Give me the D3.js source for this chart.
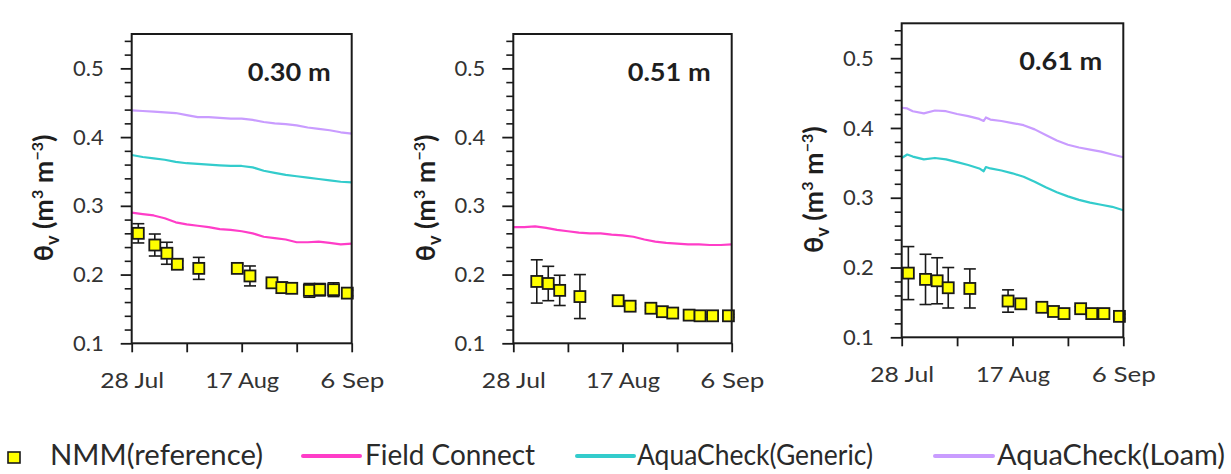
<!DOCTYPE html>
<html>
<head>
<meta charset="utf-8">
<script src="https://cdn.jsdelivr.net/npm/d3@7"></script>
<style>
  html, body { margin: 0; padding: 0; background: #fff; }
  svg { display: block; }
  text { font-family: Lato, "Open Sans", sans-serif; }
</style>
</head>
<body>
<svg id="chart" width="1231" height="474"></svg>
<script>
// ---- data -------------------------------------------------------------
// Days are counted from 28 Jul.
const startDate = new Date(2017, 6, 28);
const xTickDays = [0, 10, 20, 30, 40];
const xTickLabels = ["28 Jul", "", "17 Aug", "", "6 Sep"];
const yMajorTicks = [0.1, 0.2, 0.3, 0.4, 0.5];
const yTickLabels = ["0.1", "0.2", "0.3", "0.4", "0.5"];
const depthLabels = ["0.30 m", "0.51 m", "0.61 m"];
const seriesNames = ["NMM(reference)", "Field Connect", "AquaCheck(Generic)", "AquaCheck(Loam)"];
const seriesColors = ["#ffff00", "#ff3dc8", "#33cccc", "#c99cff"];

// Continuous sensor readings
const lineDays = [0, 2, 4, 6, 8, 10, 12, 14, 16, 18, 20, 22, 24, 26, 28, 30, 32, 34, 36, 38, 40];
const fieldConnect030 = [0.290, 0.288, 0.286, 0.282, 0.276, 0.273, 0.271, 0.269, 0.266, 0.265, 0.263,
                         0.260, 0.255, 0.253, 0.251, 0.247, 0.247, 0.248, 0.246, 0.244, 0.245];
const generic030 = [0.374, 0.371, 0.369, 0.367, 0.364, 0.362, 0.361, 0.360, 0.359, 0.358, 0.358,
                    0.356, 0.351, 0.348, 0.345, 0.343, 0.341, 0.339, 0.337, 0.335, 0.334];
const loam030 = [0.439, 0.438, 0.437, 0.436, 0.435, 0.432, 0.429, 0.429, 0.428, 0.427, 0.427,
                 0.425, 0.422, 0.420, 0.419, 0.417, 0.414, 0.412, 0.410, 0.407, 0.405];
const fieldConnect051 = [0.269, 0.269, 0.270, 0.268, 0.265, 0.263, 0.261, 0.260, 0.260, 0.258, 0.257,
                         0.255, 0.251, 0.248, 0.246, 0.245, 0.244, 0.244, 0.243, 0.243, 0.244];
const lineDays061 = [0, 1, 2, 4, 6, 8, 10, 12, 14, 14.8, 15.2, 16, 18, 20, 22, 24, 26, 28, 30, 32, 34, 36, 38, 40];
const generic061 = [0.357, 0.362, 0.359, 0.355, 0.357, 0.355, 0.351, 0.347, 0.342, 0.338, 0.344, 0.342,
                    0.339, 0.335, 0.330, 0.323, 0.315, 0.308, 0.302, 0.297, 0.293, 0.290, 0.287, 0.282];
const loam061 = [0.429, 0.428, 0.424, 0.421, 0.425, 0.424, 0.420, 0.417, 0.413, 0.410, 0.415, 0.412,
                 0.410, 0.407, 0.404, 0.398, 0.390, 0.382, 0.376, 0.372, 0.369, 0.366, 0.362, 0.358];

// Neutron moisture meter samples (mean and standard deviation)
const nmmDays030 = [1.2, 4.2, 6.4, 8.3, 12.2, 19.2, 21.5, 25.5, 27.3, 29.1, 32.3, 34.2, 36.7, 39.2];
const nmm030 = [0.260, 0.243, 0.231, 0.215, 0.209, 0.209, 0.198, 0.188, 0.181, 0.180, 0.177, 0.178, 0.178, 0.173];
const nmmSd030 = [0.014, 0.016, 0.016, 0.005, 0.016, 0.006, 0.0145, 0.006, 0.008, 0.004, 0.010, 0.009, 0.010, 0.004];
const nmmDays051 = [4.3, 6.4, 8.5, 12.2, 19.2, 21.4, 25.2, 27.3, 29.2, 32.2, 34.2, 36.5, 39.4];
const nmm051 = [0.190, 0.187, 0.177, 0.168, 0.162, 0.154, 0.151, 0.146, 0.144, 0.141, 0.140, 0.140, 0.140];
const nmmSd051 = [0.0315, 0.025, 0.022, 0.032, 0.004, 0.003, 0.003, 0.003, 0.003, 0.002, 0.002, 0.002, 0.002];
const nmmDays061 = [1.2, 4.3, 6.4, 8.4, 12.3, 19.2, 21.5, 25.3, 27.4, 29.3, 32.3, 34.3, 36.5, 39.3];
const nmm061 = [0.192, 0.183, 0.181, 0.171, 0.170, 0.152, 0.148, 0.143, 0.137, 0.134, 0.141, 0.134, 0.134, 0.130];
const nmmSd061 = [0.038, 0.036, 0.033, 0.029, 0.028, 0.016, 0.007, 0.005, 0.003, 0.003, 0.003, 0.003, 0.003, 0.003];

// ---- layout -----------------------------------------------------------
const dayToDate = d => new Date(startDate.getTime() + d * 86400000);
const pair = (days, vals) => days.map((d, i) => ({ day: d, v: vals[i] }));

const panels = [
  { box: { left: 131.7, right: 351.7, top: 34, bottom: 343.3 },
    label: depthLabels[0],
    lines: [
      { color: seriesColors[3], pts: pair(lineDays, loam030) },
      { color: seriesColors[2], pts: pair(lineDays, generic030) },
      { color: seriesColors[1], pts: pair(lineDays, fieldConnect030) }
    ],
    nmm: nmmDays030.map((d, i) => ({ day: d, v: nmm030[i], sd: nmmSd030[i] })) },
  { box: { left: 513.3, right: 731.7, top: 34, bottom: 343.3 },
    label: depthLabels[1],
    lines: [
      { color: seriesColors[1], pts: pair(lineDays, fieldConnect051) }
    ],
    nmm: nmmDays051.map((d, i) => ({ day: d, v: nmm051[i], sd: nmmSd051[i] })) },
  { box: { left: 901.7, right: 1123.3, top: 23.3, bottom: 337.3 },
    label: depthLabels[2],
    lines: [
      { color: seriesColors[3], pts: pair(lineDays061, loam061) },
      { color: seriesColors[2], pts: pair(lineDays061, generic061) }
    ],
    nmm: nmmDays061.map((d, i) => ({ day: d, v: nmm061[i], sd: nmmSd061[i] })) }
];

const svg = d3.select("#chart");
const ink = "#1a1a1a";
const tickInk = "#333";
const yMinor = d3.range(0.12, 0.545, 0.02).filter(v => Math.abs(Math.round(v * 10) - v * 10) > 1e-6);
const xLabelWidths = { "28 Jul": 64, "17 Aug": 74, "6 Sep": 64 };

panels.forEach(p => {
  const b = p.box;
  const x = d3.scaleTime().domain([dayToDate(0), dayToDate(40)]).range([b.left, b.right]);
  const y = d3.scaleLinear().domain([0.1, 0.55]).range([b.bottom, b.top]);
  const g = svg.append("g");

  // minor y ticks
  g.append("g").attr("transform", `translate(${b.left},0)`)
    .call(d3.axisLeft(y).tickValues(yMinor).tickSize(7).tickSizeOuter(0).tickFormat(""))
    .call(a => a.select(".domain").remove())
    .call(a => a.selectAll("line").attr("stroke", ink).attr("stroke-width", 1.6));

  // major y ticks with labels
  g.append("g").attr("transform", `translate(${b.left},0)`)
    .call(d3.axisLeft(y).tickValues(yMajorTicks).tickSize(11).tickSizeOuter(0).tickPadding(17)
      .tickFormat((d, i) => yTickLabels[i]))
    .call(a => a.select(".domain").remove())
    .call(a => a.selectAll("line").attr("stroke", ink).attr("stroke-width", 1.8))
    .call(a => a.selectAll("text").attr("fill", tickInk).attr("font-size", 22)
      .attr("font-family", "Lato, sans-serif"));

  // x ticks
  g.append("g").attr("transform", `translate(0,${b.bottom})`)
    .call(d3.axisBottom(x).tickValues(xTickDays.map(dayToDate)).tickSize(9).tickSizeOuter(0)
      .tickFormat((d, i) => xTickLabels[i]))
    .call(a => a.select(".domain").remove())
    .call(a => a.selectAll("line").attr("stroke", ink).attr("stroke-width", 1.8))
    .call(a => a.selectAll("text").attr("fill", tickInk).attr("font-size", 22)
      .attr("font-family", "Lato, sans-serif").attr("dy", null).attr("y", 45)
      .each(function () {
        const t = d3.select(this).text();
        if (xLabelWidths[t]) d3.select(this).attr("textLength", xLabelWidths[t]).attr("lengthAdjust", "spacingAndGlyphs");
      }));

  // sensor lines
  const line = d3.line().x(d => x(dayToDate(d.day))).y(d => y(d.v));
  p.lines.forEach(l => {
    g.append("path").datum(l.pts).attr("d", line)
      .attr("fill", "none").attr("stroke", l.color).attr("stroke-width", 2.2)
      .attr("stroke-linejoin", "round");
  });

  // NMM error bars and markers
  const cap = 6;
  const eb = g.append("g").attr("stroke", ink).attr("stroke-width", 1.6);
  p.nmm.forEach(d => {
    const cx = x(dayToDate(d.day));
    eb.append("line").attr("x1", cx).attr("x2", cx).attr("y1", y(d.v - d.sd)).attr("y2", y(d.v + d.sd));
    eb.append("line").attr("x1", cx - cap).attr("x2", cx + cap).attr("y1", y(d.v - d.sd)).attr("y2", y(d.v - d.sd));
    eb.append("line").attr("x1", cx - cap).attr("x2", cx + cap).attr("y1", y(d.v + d.sd)).attr("y2", y(d.v + d.sd));
  });
  g.append("g").selectAll("rect").data(p.nmm).join("rect")
    .attr("x", d => x(dayToDate(d.day)) - 5.5).attr("y", d => y(d.v) - 5.5)
    .attr("width", 11).attr("height", 11)
    .attr("fill", seriesColors[0]).attr("stroke", ink).attr("stroke-width", 1.8);

  // frame
  g.append("rect").attr("x", b.left).attr("y", b.top)
    .attr("width", b.right - b.left).attr("height", b.bottom - b.top)
    .attr("fill", "none").attr("stroke", ink).attr("stroke-width", 2);

  // depth label
  g.append("text").attr("x", b.right - 21).attr("y", b.top + 47)
    .attr("text-anchor", "end").attr("font-size", 25).attr("font-weight", 700)
    .attr("fill", "#1e1e1e").attr("textLength", 83).attr("lengthAdjust", "spacingAndGlyphs")
    .text(p.label);

  // y axis title
  const tx = b.left - 88, ty = b.top + 0.53 * (b.bottom - b.top);
  const yt = g.append("text").attr("transform", `translate(${tx},${ty}) rotate(-90)`)
    .attr("text-anchor", "middle").attr("font-size", 27).attr("font-weight", 700)
    .attr("fill", "#1e1e1e").attr("dy", "0.35em");
  yt.append("tspan").text("θ");
  yt.append("tspan").attr("font-size", 18).attr("dy", 6).text("v");
  yt.append("tspan").attr("dy", -6).text(" (m");
  yt.append("tspan").attr("font-size", 16).attr("dy", -10).text("3");
  yt.append("tspan").attr("dy", 10).text(" m");
  yt.append("tspan").attr("font-size", 16).attr("dy", -10).text("−3");
  yt.append("tspan").attr("dy", 10).text(")");
});

// ---- legend -----------------------------------------------------------
const legend = svg.append("g").attr("font-size", 29).attr("fill", "#2a2a2a");
const legendItems = [
  { sym: "box", x0: 8, x1: 20, tx: 50, w: 213 },
  { sym: "line", x0: 303, x1: 360, tx: 365, w: 170 },
  { sym: "line", x0: 577, x1: 634, tx: 637, w: 236 },
  { sym: "line", x0: 935, x1: 993, tx: 997, w: 228 }
];
legendItems.forEach((it, i) => {
  if (it.sym === "box") {
    legend.append("rect").attr("x", it.x0).attr("y", 452).attr("width", it.x1 - it.x0).attr("height", 11)
      .attr("fill", seriesColors[0]).attr("stroke", ink).attr("stroke-width", 1.6);
  } else {
    legend.append("line").attr("x1", it.x0).attr("x2", it.x1).attr("y1", 456).attr("y2", 456)
      .attr("stroke", seriesColors[i]).attr("stroke-width", 4).attr("stroke-linecap", "round");
  }
  legend.append("text").attr("x", it.tx).attr("y", 465)
    .attr("textLength", it.w).attr("lengthAdjust", "spacingAndGlyphs")
    .text(seriesNames[i]);
});
</script>
</body>
</html>
